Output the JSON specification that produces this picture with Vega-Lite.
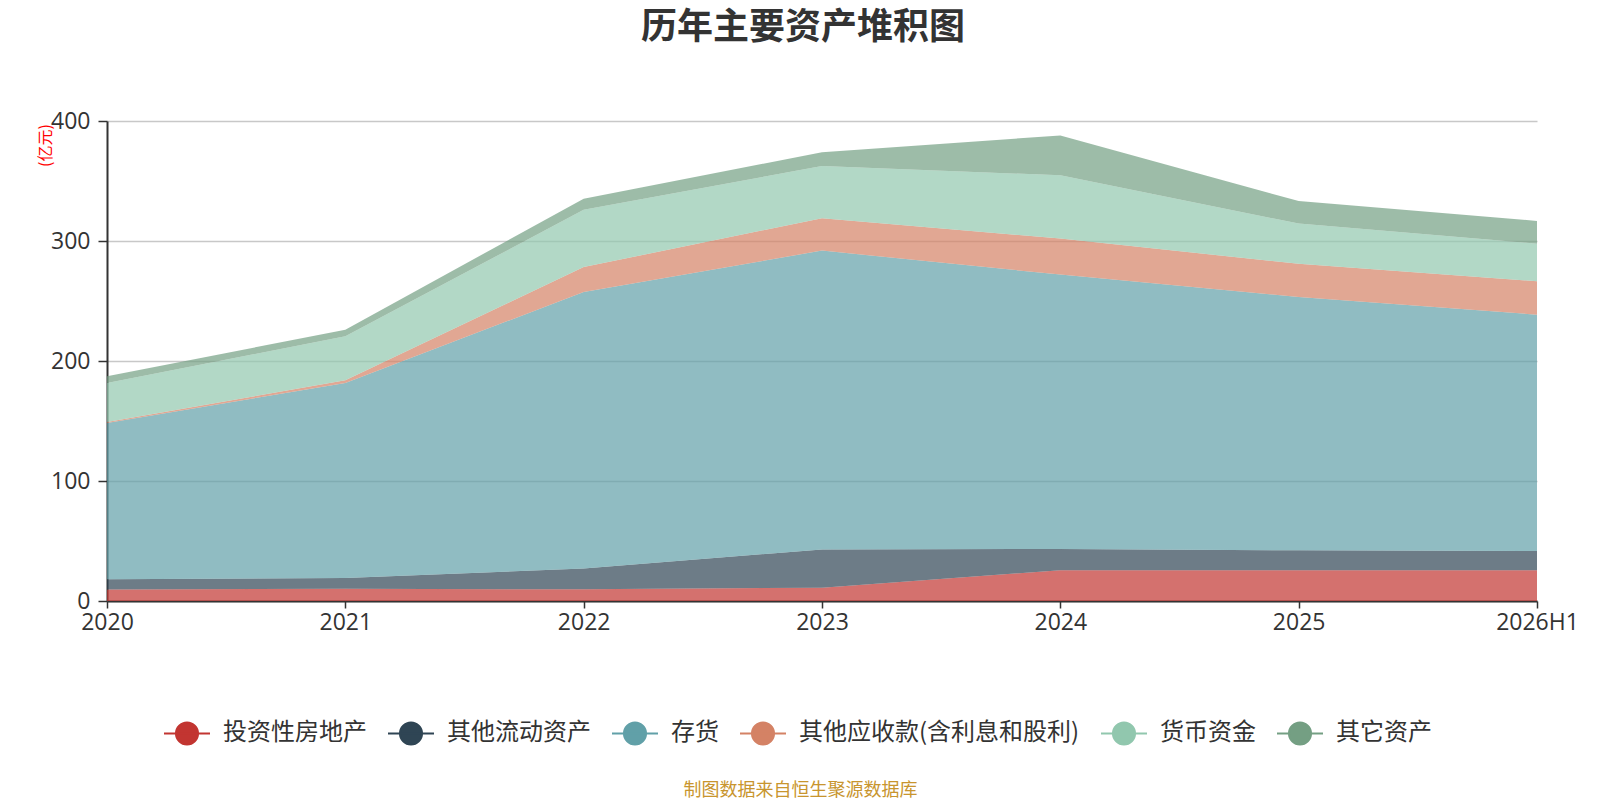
{
  "$schema": "https://vega.github.io/schema/vega-lite/v6.json",
  "autosize": "none",
  "padding": {"left": 107, "top": 121, "right": 63, "bottom": 199},
  "width": 1430,
  "height": 480,
  "background": "white",
  "config": {"font": "Noto Sans CJK SC", "view": {"stroke": null}},
  "title": {
    "text": "历年主要资产堆积图",
    "fontSize": 36,
    "fontWeight": "bold",
    "color": "#333333",
    "anchor": "middle",
    "dx": -19,
    "offset": 63
  },
  "data": {
    "values": [
      {"year": "2020", "type": "投资性房地产", "k": 1, "value": 9.5},
      {"year": "2020", "type": "其他流动资产", "k": 2, "value": 8.6},
      {"year": "2020", "type": "存货", "k": 3, "value": 130.2},
      {"year": "2020", "type": "其他应收款(含利息和股利)", "k": 4, "value": 0.8},
      {"year": "2020", "type": "货币资金", "k": 5, "value": 32.6},
      {"year": "2020", "type": "其它资产", "k": 6, "value": 5.6},
      {"year": "2021", "type": "投资性房地产", "k": 1, "value": 10.3},
      {"year": "2021", "type": "其他流动资产", "k": 2, "value": 8.9},
      {"year": "2021", "type": "存货", "k": 3, "value": 162.5},
      {"year": "2021", "type": "其他应收款(含利息和股利)", "k": 4, "value": 2.3},
      {"year": "2021", "type": "货币资金", "k": 5, "value": 36.6},
      {"year": "2021", "type": "其它资产", "k": 6, "value": 5.4},
      {"year": "2022", "type": "投资性房地产", "k": 1, "value": 9.7},
      {"year": "2022", "type": "其他流动资产", "k": 2, "value": 17.3},
      {"year": "2022", "type": "存货", "k": 3, "value": 230.5},
      {"year": "2022", "type": "其他应收款(含利息和股利)", "k": 4, "value": 20.8},
      {"year": "2022", "type": "货币资金", "k": 5, "value": 47.7},
      {"year": "2022", "type": "其它资产", "k": 6, "value": 9.3},
      {"year": "2023", "type": "投资性房地产", "k": 1, "value": 11.1},
      {"year": "2023", "type": "其他流动资产", "k": 2, "value": 31.9},
      {"year": "2023", "type": "存货", "k": 3, "value": 249.0},
      {"year": "2023", "type": "其他应收款(含利息和股利)", "k": 4, "value": 27.0},
      {"year": "2023", "type": "货币资金", "k": 5, "value": 43.5},
      {"year": "2023", "type": "其它资产", "k": 6, "value": 11.5},
      {"year": "2024", "type": "投资性房地产", "k": 1, "value": 25.6},
      {"year": "2024", "type": "其他流动资产", "k": 2, "value": 17.8},
      {"year": "2024", "type": "存货", "k": 3, "value": 228.6},
      {"year": "2024", "type": "其他应收款(含利息和股利)", "k": 4, "value": 30.0},
      {"year": "2024", "type": "货币资金", "k": 5, "value": 52.7},
      {"year": "2024", "type": "其它资产", "k": 6, "value": 33.3},
      {"year": "2025", "type": "投资性房地产", "k": 1, "value": 25.6},
      {"year": "2025", "type": "其他流动资产", "k": 2, "value": 16.6},
      {"year": "2025", "type": "存货", "k": 3, "value": 211.1},
      {"year": "2025", "type": "其他应收款(含利息和股利)", "k": 4, "value": 27.7},
      {"year": "2025", "type": "货币资金", "k": 5, "value": 33.5},
      {"year": "2025", "type": "其它资产", "k": 6, "value": 18.8},
      {"year": "2026H1", "type": "投资性房地产", "k": 1, "value": 25.6},
      {"year": "2026H1", "type": "其他流动资产", "k": 2, "value": 16.1},
      {"year": "2026H1", "type": "存货", "k": 3, "value": 196.9},
      {"year": "2026H1", "type": "其他应收款(含利息和股利)", "k": 4, "value": 27.8},
      {"year": "2026H1", "type": "货币资金", "k": 5, "value": 31.4},
      {"year": "2026H1", "type": "其它资产", "k": 6, "value": 18.9}
    ]
  },
  "mark": {"type": "area", "fillOpacity": 0.7},
  "encoding": {
    "x": {
      "field": "year",
      "type": "ordinal",
      "sort": null,
      "scale": {"type": "point", "padding": 0},
      "axis": {
        "title": "制图数据来自恒生聚源数据库",
        "titleColor": "#c8952e",
        "titleFontSize": 18,
        "titleFontWeight": "normal",
        "titleX": 693,
        "titleY": 189,
        "titleBaseline": "middle",
        "labelAngle": 0,
        "labelFont": "Open Sans",
        "labelFontSize": 23,
        "labelColor": "#333333",
        "labelPadding": 3,
        "domainColor": "#333333",
        "domainWidth": 2,
        "tickColor": "#333333",
        "tickWidth": 1.5,
        "tickSize": 7,
        "grid": false
      }
    },
    "y": {
      "field": "value",
      "type": "quantitative",
      "stack": "zero",
      "scale": {"domain": [0, 400]},
      "axis": {
        "title": "(亿元)",
        "titleColor": "red",
        "titleFontSize": 16,
        "titleFontWeight": "normal",
        "titleAngle": 270,
        "titleAlign": "center",
        "titleBaseline": "middle",
        "titleX": -62,
        "titleY": 24,
        "values": [0, 100, 200, 300, 400],
        "labelFont": "Open Sans",
        "labelFontSize": 23,
        "labelColor": "#333333",
        "labelPadding": 8,
        "domainColor": "#333333",
        "domainWidth": 2,
        "tickColor": "#333333",
        "tickWidth": 1.5,
        "tickSize": 9,
        "gridColor": "#c8c8c8",
        "gridWidth": 1.5
      }
    },
    "color": {
      "field": "type",
      "type": "nominal",
      "scale": {
        "domain": ["投资性房地产", "其他流动资产", "存货", "其他应收款(含利息和股利)", "货币资金", "其它资产"],
        "range": ["#c23531", "#2f4554", "#61a0a8", "#d48265", "#91c7ae", "#749f83"]
      },
      "legend": {
        "orient": "none",
        "legendX": 56,
        "legendY": 588,
        "direction": "horizontal",
        "columns": 6,
        "title": null,
        "labelFontSize": 24,
        "labelColor": "#333333",
        "labelLimit": 0,
        "labelOffset": 12,
        "columnPadding": 17,
        "symbolType": "M-1,0L1,0M0.48,0A0.48,0.48,0,1,1,-0.48,0A0.48,0.48,0,1,1,0.48,0Z",
        "symbolSize": 2116,
        "symbolStrokeWidth": 2,
        "symbolOpacity": 1,
        "encode": {
          "symbols": {
            "update": {
              "stroke": {"scale": "color", "field": "value"},
              "fill": {"scale": "color", "field": "value"},
              "fillOpacity": {"value": 1},
              "opacity": {"value": 1}
            }
          }
        }
      }
    },
    "order": {"field": "k", "type": "quantitative"}
  }
}
